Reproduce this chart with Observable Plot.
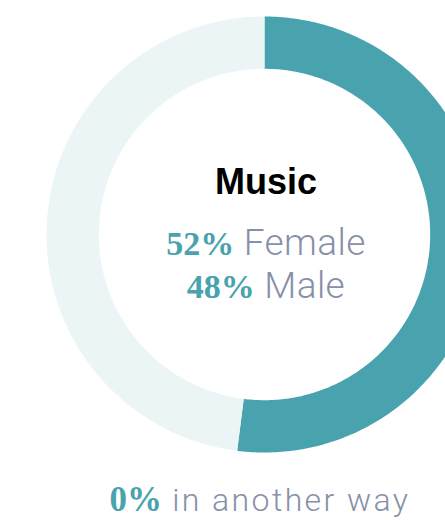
<!DOCTYPE html>
<html>
<head>
<meta charset="utf-8">
<script src="https://cdn.jsdelivr.net/npm/d3@7"></script>
<script src="https://cdn.jsdelivr.net/npm/@observablehq/plot@0.6"></script>
<style>
  html, body { margin: 0; padding: 0; background: #fff; overflow: hidden; }
  #chart { width: 445px; height: 520px; position: relative; }
</style>
</head>
<body>
<div id="chart"></div>
<script>
// ---- data ----
const title = "Music";
const categories = ["Female", "Male", "in another way"];
const values = [52, 48, 0];
const centerLabels = ["Female", "Male"];
const footLabel = "in another way";

// ---- style ----
const sliceColors = ["#49a3ae", "#ebf5f6", "#ebf5f6"];
const teal = "#49a3ae";
const grey = "#8890a9";
const innerRatio = 0.76;

// slices via d3.pie (start at 12 o'clock, clockwise)
const arcs = d3.pie().sort(null).value(d => d.value)(
  categories.map((c, i) => ({label: c, value: values[i], color: sliceColors[i]}))
);

function ringPolygon(a) {
  const n = 240, pts = [];
  for (let k = 0; k <= n; k++) {
    const t = a.startAngle + (a.endAngle - a.startAngle) * k / n;
    pts.push({x: Math.sin(t), y: Math.cos(t)});
  }
  for (let k = n; k >= 0; k--) {
    const t = a.startAngle + (a.endAngle - a.startAngle) * k / n;
    pts.push({x: innerRatio * Math.sin(t), y: innerRatio * Math.cos(t)});
  }
  return pts;
}

const marks = arcs
  .filter(a => a.value > 0)
  .map(a => Plot.line(ringPolygon(a), {x: "x", y: "y", fill: a.data.color, stroke: "none", curve: "linear-closed"}));

const svg = Plot.plot({
  width: 445,
  height: 520,
  margin: 0,
  x: {domain: [-1, 1], range: [46, 482], axis: null},
  y: {domain: [-1, 1], range: [452, 16], axis: null},
  marks
});

const s = d3.select(svg);
s.append("text")
  .attr("x", 266).attr("y", 194)
  .attr("text-anchor", "middle")
  .attr("font-family", "'Liberation Sans', Arial, sans-serif")
  .attr("font-weight", 700)
  .attr("font-size", 36)
  .attr("fill", "#000")
  .text(title);

const numFont = "'Liberation Serif', 'DejaVu Serif', serif";
const labFont = "Roboto, 'Open Sans', sans-serif";

function mixedLine(x, y, num, label, numSize, labSize, spacing) {
  const t = s.append("text").attr("x", x).attr("y", y).attr("text-anchor", "middle");
  t.append("tspan")
    .attr("font-family", numFont).attr("font-weight", 700)
    .attr("font-size", numSize).attr("fill", teal)
    .style("font-variant-numeric", "oldstyle-nums")
    .text(num + "%");
  t.append("tspan")
    .attr("font-family", labFont).attr("font-weight", 300)
    .attr("font-size", labSize).attr("fill", grey)
    .attr("letter-spacing", spacing)
    .text(" " + label);
}

mixedLine(266, 255, values[0], centerLabels[0], 34, 37, 0.4);
mixedLine(266, 298, values[1], centerLabels[1], 34, 37, 0.4);
mixedLine(260, 511, values[2], footLabel, 35, 32, 2.4);

document.getElementById("chart").appendChild(svg);
</script>
</body>
</html>
